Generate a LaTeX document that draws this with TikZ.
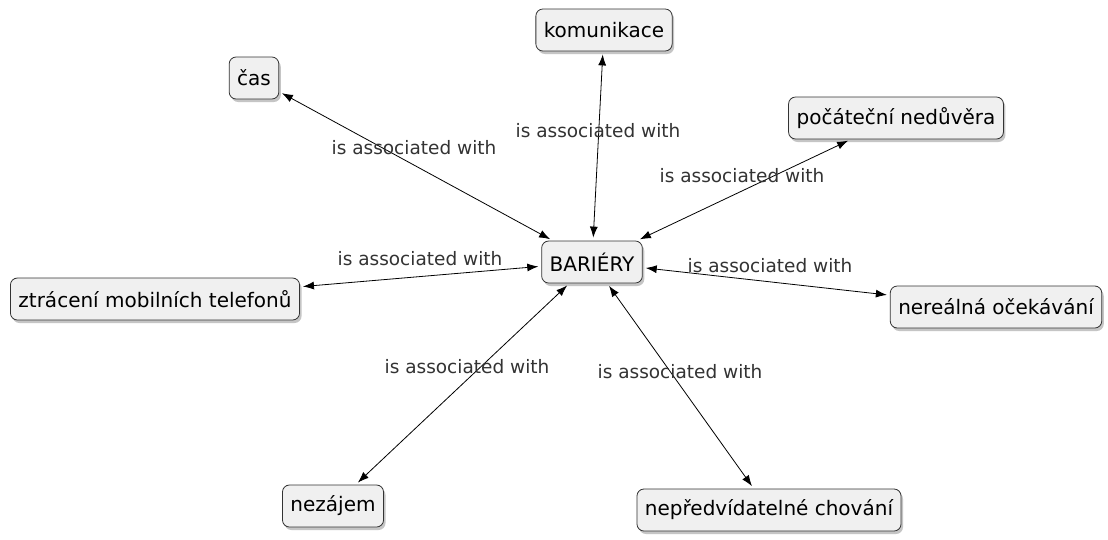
\documentclass[tikz,border=0pt]{standalone}
\usepackage{fontspec}
\setmainfont{DejaVu Sans}
\usetikzlibrary{shadows,arrows.meta}
\begin{document}
\begin{tikzpicture}
  [x=1pt,y=-1pt,
   every node/.style={font=\fontsize{20}{22}\selectfont},
   concept/.style={draw=black!80,thick,rounded corners=7pt,fill=black!6,
     minimum height=42pt,inner xsep=8pt,
     drop shadow={shadow xshift=2pt,shadow yshift=-3pt,fill=black!45}},
   assoc/.style={text=black!80,font=\fontsize{18.5}{22}\selectfont}]
  \useasboundingbox[fill=white] (0,0) rectangle (1108,539);
  \node[concept] (bar) at (592,262) {BARIÉRY};
  \node[concept] (cas) at (254,78) {čas};
  \node[concept] (kom) at (604,30) {komunikace};
  \node[concept] (ned) at (896,118) {počáteční nedůvěra};
  \node[concept] (ztr) at (155,299) {ztrácení mobilních telefonů};
  \node[concept] (ner) at (996,307) {nereálná očekávání};
  \node[concept] (nez) at (333,506) {nezájem};
  \node[concept] (nep) at (769,510) {nepředvídatelné chování};

  \path[{Latex[length=11pt,width=8pt]}-{Latex[length=11pt,width=8pt]}, draw, thick,
        shorten <=3pt, shorten >=3pt]
        (cas) edge (bar)
        (kom) edge (bar)
        (ned) edge (bar)
        (ztr) edge (bar)
        (ner) edge (bar)
        (nez) edge (bar)
        (nep) edge (bar);

  \node[assoc] (l1) at (414,148) {is associated with};
  \node[assoc] (l2) at (598,131) {is associated with};
  \node[assoc] (l3) at (742,176) {is associated with};
  \node[assoc] (l4) at (420,259) {is associated with};
  \node[assoc] (l5) at (770,266) {is associated with};
  \node[assoc] (l6) at (467,367) {is associated with};
  \node[assoc] (l7) at (680,372) {is associated with};
\end{tikzpicture}
\end{document}
